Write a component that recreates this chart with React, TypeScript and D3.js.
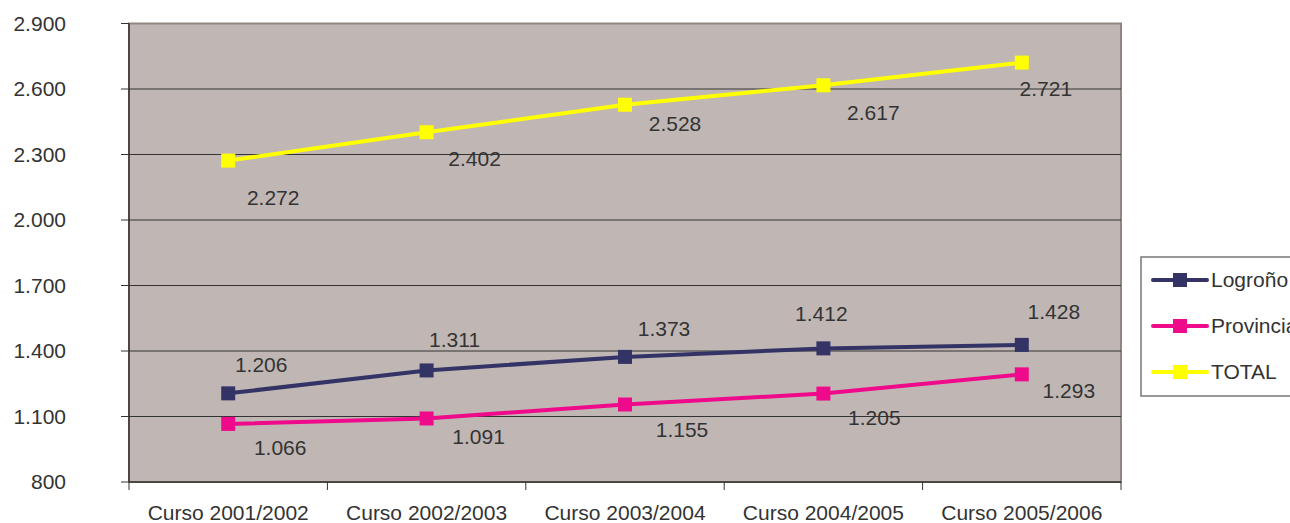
import React from "react";
import * as d3 from "d3";

const categories = ["Curso 2001/2002", "Curso 2002/2003", "Curso 2003/2004", "Curso 2004/2005", "Curso 2005/2006"];
const logrono = [1206, 1311, 1373, 1412, 1428];
const provincia = [1066, 1091, 1155, 1205, 1293];
const total = [2272, 2402, 2528, 2617, 2721];
const yTicks = [800, 1100, 1400, 1700, 2000, 2300, 2600, 2900];

// label offsets (layout only)
const labelOffsets: Record<string, [number, number][]> = {
  "Logroño": [[33, -29], [28, -31], [39, -28], [-2, -35], [32, -33]],
  "Provincia": [[52, 24], [52, 18], [57, 25], [51, 24], [47, 16]],
  "TOTAL": [[45, 37], [48, 26], [50, 19], [50, 27], [24, 26]],
};

const series = [
  { name: "Logroño", values: logrono, color: "#333366" },
  { name: "Provincia", values: provincia, color: "#ee0a8a" },
  { name: "TOTAL", values: total, color: "#ffff00" },
];

const fmt = (v: number) => d3.format(",")(v).replace(/,/g, ".");

export default function App() {
  const W = 1290, H = 523;
  const left = 129, right = 1121, top = 23.5, bottom = 482;
  const x = d3.scaleBand<string>().domain(categories).range([left, right]);
  const y = d3.scaleLinear().domain([800, 2900]).range([bottom, top]);
  const cx = (c: string) => (x(c) as number) + x.bandwidth() / 2;
  const line = d3.line<number>().x((_, i) => cx(categories[i])).y((d) => y(d));
  const font = "'Liberation Sans', Arial, sans-serif";
  const textColor = "#333333";
  return (
    <svg width={W} height={H} style={{ position: "absolute", left: 0, top: 0 }} fontFamily={font}>
      <rect x={0} y={0} width={W} height={H} fill="#ffffff" />
      <rect x={left} y={top} width={right - left} height={bottom - top} fill="#c0b7b4" stroke="#8f8581" strokeWidth={2} />
      {yTicks.slice(1, -1).map((t) => (
        <line key={t} x1={left} x2={right} y1={y(t)} y2={y(t)} stroke="#333333" strokeWidth={1} />
      ))}
      {/* axes */}
      <line x1={left} x2={left} y1={top} y2={bottom} stroke="#333333" strokeWidth={1.5} />
      <line x1={left} x2={right} y1={bottom} y2={bottom} stroke="#333333" strokeWidth={1.5} />
      {yTicks.map((t) => (
        <g key={t}>
          <line x1={left - 8} x2={left} y1={y(t)} y2={y(t)} stroke="#333333" strokeWidth={1} />
          <text x={66} y={y(t)} dy="0.35em" textAnchor="end" fontSize={21} fill={textColor}>{fmt(t)}</text>
        </g>
      ))}
      {[...categories.map((c) => x(c) as number), right].map((px, i) => (
        <line key={i} x1={px} x2={px} y1={bottom} y2={bottom + 8} stroke="#333333" strokeWidth={1} />
      ))}
      {categories.map((c) => (
        <text key={c} x={cx(c)} y={bottom + 38} textAnchor="middle" fontSize={21} fill={textColor}>{c}</text>
      ))}
      {series.map((s) => (
        <g key={s.name}>
          <path d={line(s.values) || ""} fill="none" stroke={s.color} strokeWidth={4} />
          {s.values.map((v, i) => (
            <rect key={i} x={cx(categories[i]) - 7} y={y(v) - 7} width={14} height={14} fill={s.color} />
          ))}
          {s.values.map((v, i) => (
            <text key={"t" + i} x={cx(categories[i]) + labelOffsets[s.name][i][0]} y={y(v) + labelOffsets[s.name][i][1]} dy="0.35em" textAnchor="middle" fontSize={21} fill={textColor}>{fmt(v)}</text>
          ))}
        </g>
      ))}
      {/* legend */}
      <rect x={1141} y={257} width={160} height={139} fill="#ffffff" stroke="#777777" strokeWidth={1.5} />
      {series.map((s, i) => {
        const ly = 280 + i * 46;
        return (
          <g key={s.name}>
            <line x1={1153} x2={1207} y1={ly} y2={ly} stroke={s.color} strokeWidth={4} strokeLinecap="round" />
            <rect x={1173} y={ly - 7} width={14} height={14} fill={s.color} />
            <text x={1211} y={ly} dy="0.35em" fontSize={21} fill={textColor}>{s.name}</text>
          </g>
        );
      })}
    </svg>
  );
}
